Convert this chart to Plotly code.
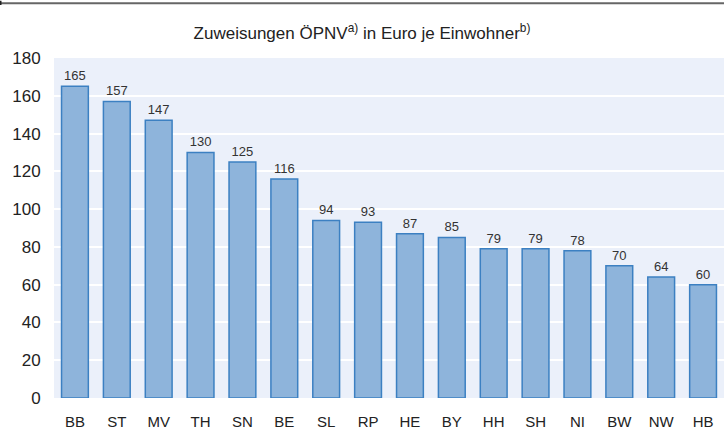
import plotly.graph_objects as go

categories = ["BB", "ST", "MV", "TH", "SN", "BE", "SL", "RP", "HE", "BY", "HH", "SH", "NI", "BW", "NW", "HB"]
values = [165, 157, 147, 130, 125, 116, 94, 93, 87, 85, 79, 79, 78, 70, 64, 60]
title_text = "Zuweisungen ÖPNV<sup>a)</sup> in Euro je Einwohner<sup>b)</sup>"

W, H = 724, 430
L, R, T, B = 54, 0, 58, 28
PW, PH = W - L - R, H - T - B

fig = go.Figure(go.Bar(
    x=categories, y=values,
    marker=dict(color="#8EB4DB", line=dict(color="#3C80C2", width=1.5)),
    text=[str(v) for v in values], textposition="outside",
    textfont=dict(family="Liberation Sans, Arial", size=13, color="#333333"),
    cliponaxis=False,
))

fig.update_layout(
    width=W, height=H,
    margin=dict(l=L, r=R, t=T, b=B),
    paper_bgcolor="white", plot_bgcolor="#EBF0FA",
    bargap=0.36,
    showlegend=False,
    font=dict(family="Liberation Sans, Arial", color="#222222"),
    title=dict(text=title_text, x=0.5, xanchor="center", y=1 - 33/H, yanchor="middle",
               font=dict(size=17, color="#222222")),
    xaxis=dict(showgrid=False, ticks="outside", ticklen=10, tickcolor="rgba(0,0,0,0)",
               tickfont=dict(size=15), showline=False),
    yaxis=dict(range=[0, 180], dtick=20, gridcolor="white", gridwidth=2, zeroline=False,
               tickfont=dict(size=17), ticks="outside", ticklen=9, tickcolor="rgba(0,0,0,0)"),
    shapes=[
        dict(type="rect", xref="paper", yref="paper", x0=-L/PW, x1=1, y0=1 + (T - 3.5)/PH, y1=1 + (T - 1.5)/PH,
             line=dict(width=0), fillcolor="#666666", layer="above"),
        dict(type="rect", xref="paper", yref="paper", x0=-L/PW, x1=-(L - 1.5)/PW, y0=1 + (T - 4.5)/PH, y1=1 + T/PH,
             line=dict(width=0), fillcolor="#222222", layer="above"),
    ],
)

fig.write_html("out.html", config={"displayModeBar": False},
               post_script="document.body.style.margin='0';document.body.style.overflow='hidden';")
